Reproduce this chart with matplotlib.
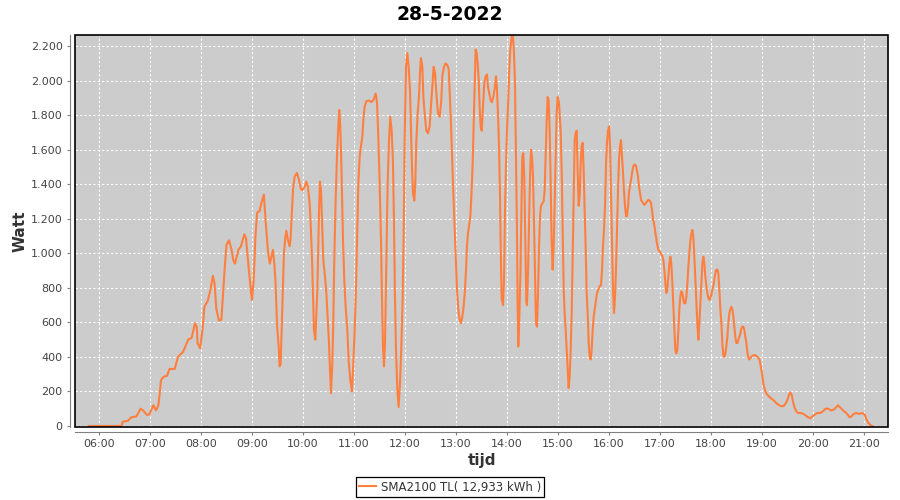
import matplotlib
matplotlib.use('Agg')
import matplotlib.pyplot as plt
from matplotlib.patches import Rectangle
from matplotlib.ticker import FuncFormatter

# opbrengst 28-5-2022, tijd in minuten na middernacht, vermogen in Watt
tijd_min = [
    348.2, 386.3, 388.2, 394.0, 398.0, 404.0, 409.0, 412.0, 416.0, 419.0,
    424.0, 427.0, 430.0, 431.0, 433.0, 436.0, 440.0, 443.0, 449.0, 453.0,
    459.0, 465.0, 469.0, 473.0, 475.0, 476.0, 479.0, 482.0, 484.0, 488.0,
    491.0, 494.0, 496.0, 498.0, 501.0, 504.0, 506.0, 508.0, 510.0, 513.0,
    516.0, 518.0, 520.0, 524.0, 527.0, 531.0, 533.0, 536.0, 539.0, 540.0,
    542.0, 544.0, 546.0, 549.0, 551.0, 554.0, 556.0, 559.0, 561.0, 564.7,
    566.3, 567.8, 569.4, 571.4, 572.5, 573.7, 575.3, 576.5, 577.6, 579.2,
    580.4, 582.4, 584.3, 585.5, 587.1, 588.2, 590.2, 592.9, 595.3, 597.3,
    599.2, 602.0, 603.9, 605.9, 607.8, 609.0, 610.6, 611.8, 612.9, 614.5,
    615.7, 616.9, 618.0, 618.8, 620.0, 621.2, 622.4, 623.9, 625.9, 627.5,
    629.0, 630.6, 631.8, 632.9, 634.5, 635.7, 636.9, 638.4, 640.0, 641.6,
    642.7, 643.9, 645.1, 647.1, 648.6, 650.2, 652.2, 653.7, 655.7, 657.6,
    659.2, 660.8, 662.4, 663.5, 665.1, 666.7, 668.2, 669.8, 671.0, 672.5,
    674.5, 677.6, 680.4, 683.1, 685.5, 687.1, 688.6, 690.2, 691.8, 692.9,
    694.1, 695.3, 696.5, 698.0, 699.6, 701.2, 702.7, 704.3, 705.9, 707.1,
    708.2, 709.4, 711.0, 712.5, 714.1, 715.7, 717.3, 718.4, 719.6, 721.2,
    722.7, 724.3, 725.9, 727.1, 728.2, 729.4, 731.0, 732.2, 733.3, 734.9,
    736.5, 737.6, 738.8, 740.4, 741.6, 743.1, 745.1, 747.1, 749.0, 750.6,
    752.2, 753.7, 755.3, 756.9, 758.8, 760.8, 762.7, 763.9, 765.9, 767.8,
    769.8, 771.4, 772.5, 774.1, 775.7, 777.3, 778.8, 780.0, 781.2, 782.7,
    784.3, 785.9, 787.5, 789.0, 790.6, 791.8, 792.9, 794.1, 795.3, 796.9,
    798.4, 799.6, 800.8, 802.0, 803.1, 804.3, 805.5, 806.7, 807.8, 809.0,
    810.2, 811.8, 813.3, 814.9, 816.5, 817.6, 819.2, 820.8, 822.4, 823.9,
    825.5, 827.1, 828.2, 829.4, 830.6, 831.8, 832.5, 833.7, 835.3, 836.5,
    837.6, 838.8, 840.0, 841.6, 842.7, 843.9, 845.5, 847.1, 848.2, 849.4,
    850.6, 851.8, 852.5, 853.3, 854.5, 855.7, 856.9, 858.0, 859.2, 860.4,
    861.6, 862.7, 863.5, 864.7, 865.9, 867.1, 868.2, 869.4, 870.6, 871.8,
    873.0, 874.1, 875.3, 876.5, 877.6, 878.8, 880.0, 881.6, 883.1, 884.3,
    885.5, 886.7, 887.8, 889.0, 890.2, 891.4, 892.5, 893.7, 894.9, 896.1,
    897.3, 898.4, 899.6, 901.2, 903.1, 904.3, 905.5, 906.7, 907.8, 909.0,
    910.2, 911.4, 912.5, 913.7, 914.9, 916.1, 917.3, 918.4, 919.6, 920.8,
    922.0, 923.1, 924.3, 925.5, 926.7, 927.8, 929.0, 930.2, 931.4, 932.5,
    933.7, 934.9, 936.1, 937.3, 938.4, 939.6, 940.8, 942.0, 943.1, 944.3,
    945.9, 947.5, 949.0, 950.6, 951.8, 952.9, 954.1, 955.3, 956.5, 957.6,
    958.8, 960.0, 961.2, 962.4, 963.5, 964.7, 965.9, 967.1, 968.2, 969.4,
    970.6, 971.8, 972.9, 974.1, 975.3, 976.5, 977.6, 978.8, 980.0, 981.2,
    982.4, 983.5, 984.7, 985.9, 987.1, 988.6, 990.2, 991.8, 992.9, 994.1,
    995.3, 996.5, 997.6, 998.8, 1000.0, 1001.6, 1003.1, 1004.7, 1006.3, 1007.8,
    1009.4, 1010.6, 1011.8, 1012.9, 1014.1, 1015.3, 1016.5, 1018.0, 1019.6, 1020.8,
    1022.4, 1023.9, 1025.1, 1026.3, 1027.5, 1028.6, 1029.8, 1031.0, 1032.2, 1033.3,
    1034.5, 1035.7, 1036.9, 1038.0, 1039.2, 1040.4, 1041.6, 1042.7, 1043.9, 1045.1,
    1046.3, 1047.5, 1048.6, 1049.8, 1051.0, 1052.2, 1053.3, 1054.5, 1055.7, 1056.9,
    1058.0, 1059.2, 1060.4, 1061.6, 1062.7, 1063.9, 1065.1, 1066.3, 1067.5, 1068.6,
    1069.8, 1071.0, 1072.2, 1073.3, 1074.5, 1075.7, 1076.9, 1078.0, 1079.2, 1080.4,
    1081.6, 1082.7, 1083.9, 1085.1, 1086.3, 1087.5, 1088.6, 1089.8, 1091.0, 1092.2,
    1093.3, 1094.5, 1095.7, 1096.9, 1098.0, 1099.2, 1100.4, 1101.6, 1102.7, 1103.9,
    1105.1, 1106.3, 1107.5, 1108.6, 1109.8, 1111.0, 1112.2, 1113.3, 1114.5, 1115.7,
    1116.9, 1118.0, 1119.2, 1120.4, 1121.6, 1122.7, 1123.9, 1125.1, 1126.7, 1128.2,
    1129.8, 1131.8, 1133.7, 1135.3, 1136.9, 1138.0, 1139.2, 1140.4, 1141.6, 1142.7,
    1143.9, 1145.5, 1147.5, 1149.4, 1153.3, 1157.3, 1160.0, 1162.7, 1165.5, 1167.8,
    1169.8, 1171.8, 1173.3, 1174.9, 1176.5, 1178.4, 1180.4, 1182.4, 1186.3, 1190.2,
    1194.1, 1196.9, 1199.2, 1202.0, 1204.7, 1208.6, 1211.8, 1214.5, 1217.6, 1221.6,
    1224.7, 1227.5, 1229.4, 1231.4, 1235.3, 1239.2, 1243.1, 1245.1, 1247.8, 1251.0,
    1254.1, 1258.0, 1260.8, 1262.7, 1264.7, 1267.5, 1269.8,
]
watt = [
    0, 0, 25, 30, 50, 55, 100, 90, 65, 65,
    120, 90, 120, 170, 265, 285, 290, 330, 330, 400,
    430, 500, 510, 595, 575, 480, 450, 565, 690, 725,
    785, 870, 825, 680, 610, 615, 770, 920, 1050, 1075,
    1020, 960, 940, 1020, 1040, 1110, 1085, 920, 770, 730,
    845, 1090, 1235, 1245, 1290, 1340, 1190, 1000, 940, 1020,
    940, 825, 590, 460, 345, 360, 615, 825, 1000, 1090,
    1130, 1075, 1040, 1090, 1250, 1365, 1445, 1465, 1425, 1375,
    1365, 1385, 1415, 1385, 1290, 1175, 980, 750, 555, 500,
    650, 790, 1040, 1230, 1415, 1365, 1190, 960, 865, 770,
    635, 480, 325, 190, 360, 615, 980, 1305, 1560, 1735,
    1830, 1735, 1520, 1075, 845, 690, 555, 380, 265, 200,
    360, 555, 805, 1055, 1405, 1560, 1620, 1675, 1770, 1850,
    1880, 1885, 1875, 1890, 1925, 1870, 1675, 1405, 1075, 750,
    460, 345, 480, 940, 1405, 1655, 1790, 1710, 1520, 1155,
    750, 440, 210, 110, 245, 460, 750, 1090, 1655, 2080,
    2160, 2080, 1945, 1710, 1500, 1345, 1305, 1425, 1640, 1810,
    1910, 2045, 2130, 2080, 1910, 1810, 1710, 1695, 1735, 1850,
    1965, 2080, 2045, 1925, 1810, 1790, 1885, 2025, 2080, 2100,
    2090, 2065, 1945, 1750, 1520, 1290, 1095, 940, 790, 675,
    615, 595, 635, 690, 790, 905, 1040, 1115, 1155, 1215,
    1365, 1520, 1750, 2005, 2180, 2160, 2100, 2005, 1850, 1735,
    1710, 1850, 1985, 2025, 2035, 1965, 1925, 1885, 1875, 1905,
    1955, 2025, 1945, 1810, 1620, 1330, 1055, 740, 700, 850,
    1235, 1520, 1710, 1905, 2065, 2180, 2255, 2255, 2160, 1985,
    1560, 1095, 690, 460, 635, 865, 1215, 1560, 1580, 1425,
    1040, 720, 700, 885, 1175, 1445, 1600, 1560, 1445, 1175,
    865, 595, 575, 770, 1020, 1215, 1275, 1290, 1300, 1365,
    1560, 1770, 1905, 1885, 1710, 1405, 1075, 905, 1040, 1290,
    1560, 1810, 1905, 1870, 1710, 1480, 1135, 790, 655, 560,
    440, 325, 220, 290, 440, 655, 980, 1310, 1655, 1695,
    1710, 1480, 1275, 1330, 1520, 1620, 1640, 1480, 1235, 1040,
    770, 655, 480, 400, 385, 440, 555, 635, 675, 715,
    770, 790, 810, 815, 905, 1040, 1135, 1275, 1520, 1640,
    1710, 1735, 1620, 1330, 1040, 790, 655, 750, 905, 1135,
    1365, 1540, 1620, 1655, 1560, 1465, 1365, 1275, 1215, 1215,
    1275, 1350, 1390, 1425, 1465, 1505, 1515, 1505, 1480, 1445,
    1385, 1350, 1310, 1300, 1290, 1280, 1290, 1300, 1310, 1305,
    1290, 1250, 1195, 1175, 1135, 1095, 1055, 1020, 1010, 1000,
    990, 960, 905, 825, 770, 790, 865, 940, 980, 940,
    825, 690, 555, 440, 420, 440, 555, 675, 750, 780,
    770, 730, 710, 710, 750, 825, 920, 1000, 1075, 1115,
    1135, 1095, 980, 845, 710, 595, 500, 595, 710, 825,
    940, 980, 940, 865, 810, 770, 740, 730, 740, 760,
    790, 810, 845, 885, 905, 905, 885, 790, 675, 595,
    480, 410, 400, 420, 460, 515, 595, 655, 675, 690,
    675, 635, 575, 515, 480, 480, 500, 515, 535, 565,
    575, 575, 555, 515, 480, 430, 395, 385, 395, 405,
    410, 410, 405, 395, 385, 360, 325, 290, 245, 220,
    200, 185, 175, 165, 150, 130, 120, 115, 115, 130,
    150, 180, 195, 180, 140, 105, 85, 75, 75, 65,
    50, 45, 55, 65, 75, 75, 85, 100, 100, 90,
    95, 110, 120, 110, 90, 75, 50, 55, 70, 75,
    70, 75, 65, 40, 20, 5, 0,
]
uren = list(range(6, 22))
titel = '28-5-2022'
reeks = 'SMA2100 TL( 12,933 kWh )'

fig = plt.figure(figsize=(9, 5), dpi=100)
fig.patch.set_facecolor('white')
ax = fig.add_axes([75 / 900, 1 - 427 / 500, 813 / 900, 392 / 500])
ax.set_facecolor('#CCCCCC')

line, = ax.plot(tijd_min, watt, color='#FF7F3F', linewidth=1.5, label=reeks)

ax.set_xlim(331.8, 1288.2)
ax.set_ylim(-6, 2264)
ax.set_xticks([u * 60 for u in uren])
ax.set_xticklabels([f'{u:02d}:00' for u in uren])
ax.set_yticks(range(0, 2201, 200))
ax.yaxis.set_major_formatter(FuncFormatter(lambda v, p: f'{int(v):,}'.replace(',', '.')))

ax.grid(True, color='white', linestyle=(0, (2, 2)), linewidth=0.8)
ax.set_axisbelow(True)

# frame om plotgebied, assen los ervan in grijs
for s in ['top', 'right']:
    ax.spines[s].set_visible(False)
for s in ['left', 'bottom']:
    ax.spines[s].set_position(('outward', 3.5))
    ax.spines[s].set_color('#808080')
ax.add_patch(Rectangle((0, 0), 1, 1, transform=ax.transAxes, fill=False,
                       edgecolor='black', linewidth=1.2, clip_on=False, zorder=5))

ax.tick_params(colors='#808080', labelcolor='#444444', labelsize=8)
ax.tick_params(axis='x', length=2, pad=3)
ax.tick_params(axis='y', length=2.5, pad=3)

ax.set_xlabel('tijd', fontsize=11, fontweight='bold', color='#333333')
ax.xaxis.set_label_coords(0.5, -0.067)
ax.set_ylabel('Watt', fontsize=11, fontweight='bold', color='#333333')
ax.yaxis.set_label_coords(-0.058, 0.5)
fig.suptitle(titel, fontsize=13.5, fontweight='bold', y=0.99)

leg = fig.legend(handles=[line], loc='center', bbox_to_anchor=(0.5, 0.026),
                 fancybox=False, edgecolor='black', framealpha=1, fontsize=8.5,
                 handlelength=1.4, borderpad=0.3, handletextpad=0.4)
leg.get_frame().set_linewidth(0.9)
for t in leg.get_texts():
    t.set_color('#333333')

fig.savefig('out.png', dpi=100)
